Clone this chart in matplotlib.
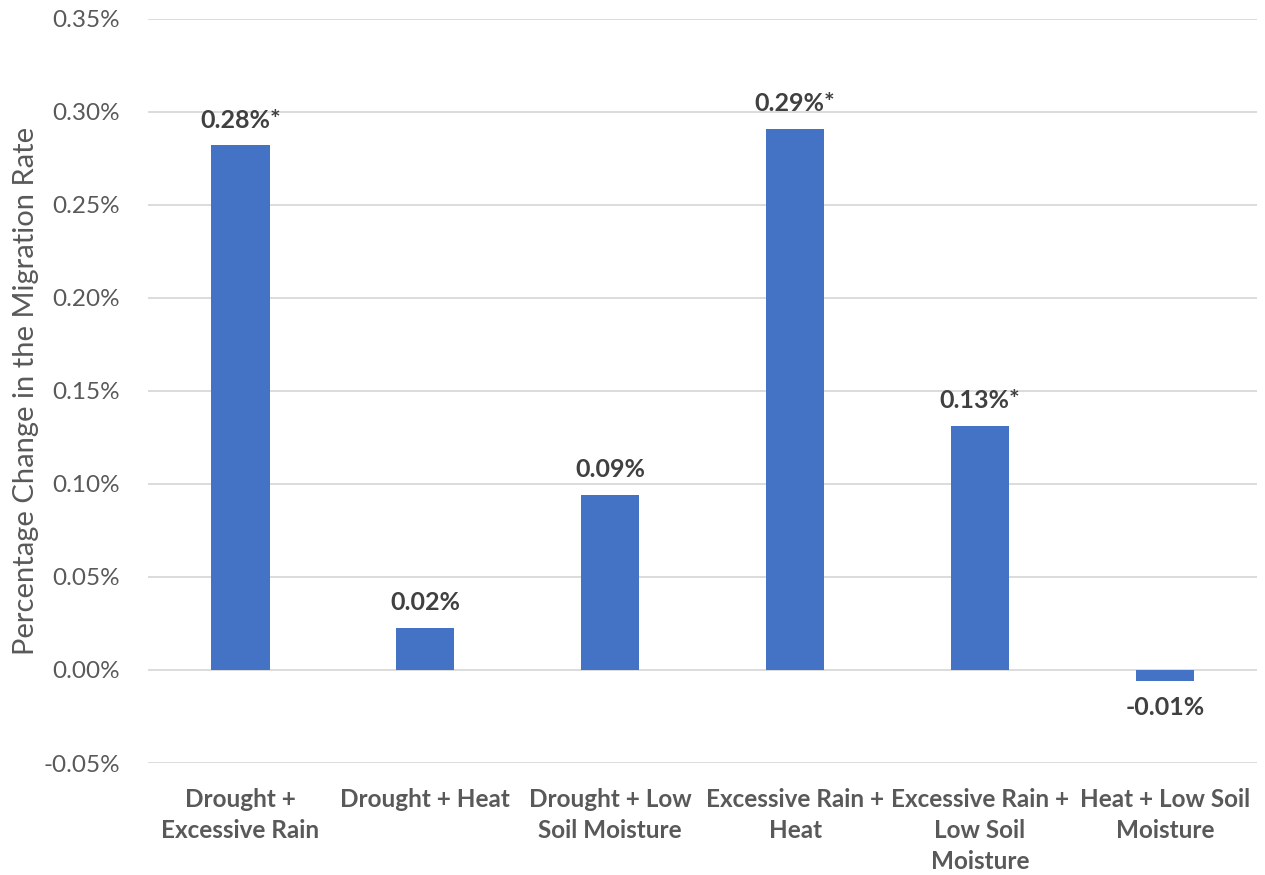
import numpy as np
import matplotlib
matplotlib.use('Agg')
import matplotlib.pyplot as plt
from matplotlib.ticker import FuncFormatter, MultipleLocator

#########################
# data
#########################
categories = ['Drought +\nExcessive Rain', 'Drought + Heat', 'Drought + Low\nSoil Moisture',
              'Excessive Rain +\nHeat', 'Excessive Rain +\nLow Soil\nMoisture', 'Heat + Low Soil\nMoisture']
values = [0.282, 0.0226, 0.094, 0.291, 0.131, -0.006]   # percent
labels = ['0.28%*', '0.02%', '0.09%', '0.29%*', '0.13%*', '-0.01%']

plt.rcParams['font.family'] = ['Lato', 'DejaVu Sans']

fig = plt.figure(figsize=(12.65, 8.75), dpi=100)
ax = fig.add_axes([0.117, 0.128, 0.877, 0.8503])

x = np.arange(len(categories))
bars = ax.bar(x, values, width=0.315, color='#4472C4', zorder=3)

for b, v, lab in zip(bars, values, labels):
	if v >= 0:
		ax.annotate(lab, (b.get_x() + b.get_width() / 2, v), xytext=(0, 10), textcoords='offset points',
			ha='center', va='bottom', fontsize=18, fontweight='bold', color='#404040')
	else:
		ax.annotate(lab, (b.get_x() + b.get_width() / 2, v), xytext=(0, -11), textcoords='offset points',
			ha='center', va='top', fontsize=18, fontweight='bold', color='#404040')

ax.set_xlim(-0.5, len(categories) - 0.5)
ax.set_ylim(-0.05, 0.35)
ax.yaxis.set_major_locator(MultipleLocator(0.05))
ax.yaxis.set_major_formatter(FuncFormatter(lambda v, p: '%.2f%%' % v))
ax.grid(True, axis='y', color='#D9D9D9', linewidth=1.3, zorder=0)

ax.set_xticks(x)
ax.set_xticklabels(categories, fontsize=17.5, fontweight='bold', color='#595959', linespacing=1.42)
ax.tick_params(axis='x', length=0, pad=18)
ax.tick_params(axis='y', length=0, labelsize=17.5, labelcolor='#595959', pad=20)
for s in ax.spines.values():
	s.set_visible(False)

ax.set_ylabel('Percentage Change in the Migration Rate', fontsize=21, color='#595959', labelpad=3)

fig.savefig('out.png', dpi=100)
